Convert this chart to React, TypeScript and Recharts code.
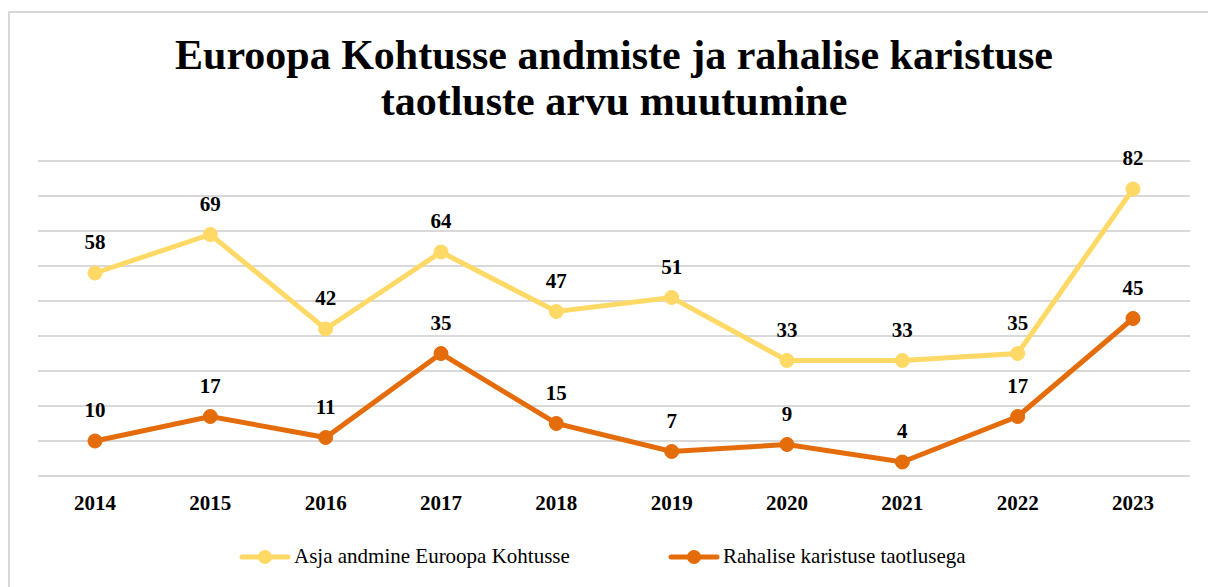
import { CartesianGrid, LabelList, Line, LineChart, XAxis, YAxis } from "recharts";

const years = ["2014", "2015", "2016", "2017", "2018", "2019", "2020", "2021", "2022", "2023"];
const referrals = [58, 69, 42, 64, 47, 51, 33, 33, 35, 82];
const finePetitions = [10, 17, 11, 35, 15, 7, 9, 4, 17, 45];
const yTicks = [0, 10, 20, 30, 40, 50, 60, 70, 80, 90];

const seriesNames = ["Asja andmine Euroopa Kohtusse", "Rahalise karistuse taotlusega"];
const YELLOW = "#FFD966";
const ORANGE = "#E46C0A";
const FONT = "'Liberation Serif', 'DejaVu Serif', serif";

const data = years.map((year, i) => ({
  year,
  referrals: referrals[i],
  finePetitions: finePetitions[i],
}));

function LegendItem({ color, label, left }: { color: string; label: string; left: number }) {
  return (
    <div style={{ position: "absolute", left, top: 0, display: "flex", alignItems: "center", whiteSpace: "nowrap" }}>
      <svg width={52} height={16} style={{ marginRight: 3 }}>
        <line x1={3} y1={8} x2={49} y2={8} stroke={color} strokeWidth={5} strokeLinecap="round" />
        <circle cx={26} cy={8} r={7} fill={color} />
      </svg>
      <span>{label}</span>
    </div>
  );
}

export default function App() {
  return (
    <div
      style={{
        position: "fixed",
        left: 0,
        top: 0,
        width: 1208,
        height: 587,
        overflow: "hidden",
        background: "#fff",
        fontFamily: FONT,
      }}
    >
      <div
        style={{
          position: "absolute",
          left: 8,
          top: 11,
          width: 1240,
          height: 620,
          border: "2px solid #d9d9d9",
        }}
      />
      <div
        style={{
          position: "absolute",
          left: 0,
          top: 32,
          width: 1228,
          textAlign: "center",
          fontSize: 42,
          fontWeight: "bold",
          lineHeight: "46px",
          color: "#000",
        }}
      >
        Euroopa Kohtusse andmiste ja rahalise karistuse
        <br />
        taotluste arvu muutumine
      </div>
      <div style={{ position: "absolute", left: 0, top: 0 }}>
        <LineChart
          width={1208}
          height={587}
          data={data}
          margin={{ top: 161, right: 18, left: 38, bottom: 81 }}
        >
          <CartesianGrid vertical={false} stroke="#d9d9d9" strokeWidth={2} />
          <YAxis hide domain={[0, 90]} ticks={yTicks} />
          <XAxis
            dataKey="year"
            height={30}
            axisLine={false}
            tickLine={false}
            tickMargin={13}
            padding={{ left: 57, right: 57 }}
            tick={{ fill: "#000", fontSize: 21, fontWeight: "bold", fontFamily: FONT }}
          />
          <Line
            dataKey="referrals"
            name={seriesNames[0]}
            stroke={YELLOW}
            strokeWidth={5}
            dot={{ r: 7, fill: YELLOW, stroke: YELLOW, strokeWidth: 1 }}
            isAnimationActive={false}
          >
            <LabelList
              dataKey="referrals"
              position="top"
              offset={24}
              style={{ fill: "#000", fontSize: 21, fontWeight: "bold", fontFamily: FONT }}
            />
          </Line>
          <Line
            dataKey="finePetitions"
            name={seriesNames[1]}
            stroke={ORANGE}
            strokeWidth={5}
            dot={{ r: 7, fill: ORANGE, stroke: ORANGE, strokeWidth: 1 }}
            isAnimationActive={false}
          >
            <LabelList
              dataKey="finePetitions"
              position="top"
              offset={24}
              style={{ fill: "#000", fontSize: 21, fontWeight: "bold", fontFamily: FONT }}
            />
          </Line>
        </LineChart>
      </div>
      <div
        style={{
          position: "absolute",
          left: 0,
          top: 544,
          width: 1208,
          height: 26,
          fontSize: 21,
          color: "#000",
        }}
      >
        <LegendItem color={YELLOW} label={seriesNames[0]} left={239} />
        <LegendItem color={ORANGE} label={seriesNames[1]} left={668} />
      </div>
    </div>
  );
}
